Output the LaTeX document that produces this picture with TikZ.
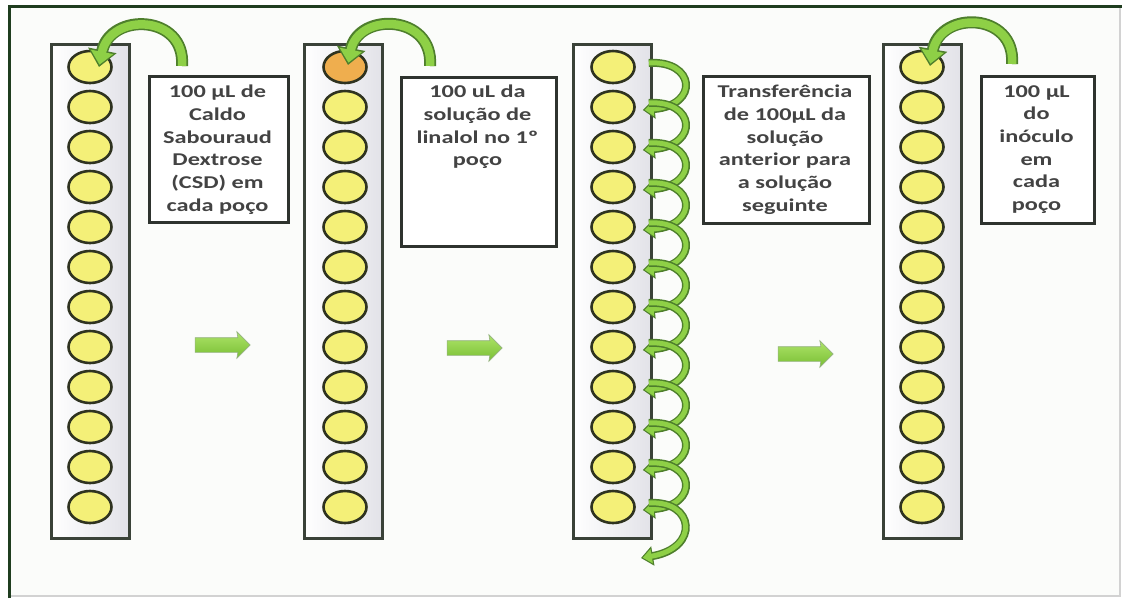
\documentclass[tikz,border=0pt]{standalone}
\usepackage{fontspec}
\setmainfont{Carlito}
\newfontfamily\boxfont{Carlito}[FakeStretch=1.35]
\usetikzlibrary{shapes.geometric,shapes.arrows,arrows.meta}
\definecolor{framec}{HTML}{1F3D1F}
\definecolor{bgc}{HTML}{FBFCFA}
\definecolor{stripc}{HTML}{3A4238}
\definecolor{stripgray}{HTML}{E2E2E8}
\definecolor{wellc}{HTML}{2F3320}
\definecolor{wellyellow}{HTML}{F4F078}
\definecolor{wellorange}{HTML}{EFAE4E}
\definecolor{boxc}{HTML}{2E332E}
\definecolor{txtc}{HTML}{434343}
\definecolor{gdark}{HTML}{4E7F2C}
\definecolor{glight}{HTML}{8ED046}
\definecolor{gtop}{HTML}{AEE468}
\definecolor{gbot}{HTML}{78BE34}
\tikzset{
  strip/.style={draw=stripc, line width=2.6pt, left color=white, right color=stripgray,
    minimum width=78pt, minimum height=494pt, anchor=north west, inner sep=0pt},
  well/.style={ellipse, draw=wellc, line width=2.6pt, fill=wellyellow,
    minimum width=43pt, minimum height=32pt, inner sep=0pt},
  tbox/.style={draw=boxc, line width=2.6pt, fill=white, anchor=north west, inner sep=0pt},
  txt/.style={font=\boxfont\bfseries\fontsize{18}{22.7}\selectfont, text=txtc,
    align=center, anchor=north, inner sep=0pt},
  gar/.style={line width=12pt, draw=gdark, -{Triangle[length=17pt,width=28pt]},
    postaction={draw=glight, line width=8.5pt, -{Triangle[length=13pt,width=22pt]}, shorten >=2.4pt}},
  sar/.style={line width=8pt, draw=gdark, -{Triangle[length=12pt,width=19pt]},
    postaction={draw=glight, line width=5pt, -{Triangle[length=9pt,width=14pt]}, shorten >=1.8pt}},
  blk/.style={single arrow, draw=gdark!60, line width=0.6pt, top color=gtop, bottom color=gbot,
    minimum height=55pt, inner xsep=0pt, inner ysep=7pt, single arrow head extend=6pt,
    single arrow head indent=1pt}
}
\begin{document}
\begin{tikzpicture}[x=1pt,y=-1pt]
\useasboundingbox (0,0) rectangle (1122,598);
\fill[white] (0,0) rectangle (1122,598);
\fill[bgc] (9,6) rectangle (1120,596);
\draw[gray!35, line width=1.5pt] (9,596) -- (1120,596) -- (1120,6);
\draw[framec, line width=3pt] (9,598) -- (9,6) -- (1122,6);

% strips
\node[strip] (strip1) at (50,43) {};
\node[strip] (strip2) at (303,43) {};
\node[strip] (strip3) at (572,43) {};
\node[strip] (strip4) at (882,43) {};

% wells
\foreach \i in {1,...,12} \node[well] (w1-\i) at (90,{67+40*(\i-1)}) {};
\node[well, fill=wellorange] (w2-1) at (345,67) {};
\foreach \i in {2,...,12} \node[well] (w2-\i) at (345,{67+40*(\i-1)}) {};
\foreach \i in {1,...,12} \node[well] (w3-\i) at (613,{67+40*(\i-1)}) {};
\foreach \i in {1,...,12} \node[well] (w4-\i) at (922,{67+40*(\i-1)}) {};

% text boxes
\node[tbox, minimum width=139pt, minimum height=146pt] (box1) at (148,75) {};
\node[tbox, minimum width=155pt, minimum height=169pt] (box2) at (400,76) {};
\node[tbox, minimum width=166pt, minimum height=147pt] (box3) at (702,75) {};
\node[tbox, minimum width=113pt, minimum height=147pt] (box4) at (980,75) {};

\node[txt] (t1) at (217.5,85) {100 µL de\\Caldo\\Sabouraud\\Dextrose\\(CSD) em\\cada poço};
\node[txt] (t2) at (477.5,85) {100 uL da\\solução de\\linalol no 1º\\poço};
\node[txt] (t3) at (785,85) {Transferência\\de 100µL da\\solução\\anterior para\\a solução\\seguinte};
\node[txt] (t4) at (1036.5,85) {100 µL\\do\\inóculo\\em\\cada\\poço};

% curved arrows from boxes to first wells
\draw[gar] ([shift={(34,-9)}]box1.north west) .. controls (186,14) and (110,12) .. ([shift={(9,0)}]w1-1.center);
\draw[gar] ([shift={(30,-10)}]box2.north west) .. controls (434,14) and (358,12) .. ([shift={(3,-2)}]w2-1.center);
\draw[gar] ([shift={(32,-11)}]box4.north west) .. controls (1016,12) and (940,10) .. ([shift={(8,-1)}]w4-1.center);

% spiral transfers
\coordinate (sp13) at (641,558);
\foreach \i [evaluate=\i as \y using {67+40*(\i-1)}] in {1,...,11} {
  \pgfmathtruncatemacro{\j}{\i+1}
  \draw[sar] ([shift={(13,-4)}]w3-\i.east) .. controls (695,{\y-7}) and (700,{\y+38}) .. ([shift={(7,3)}]w3-\j.east);
}
\draw[sar] ([shift={(13,-4)}]w3-12.east) .. controls (695,500) and (700,548) .. (sp13);

% block arrows between steps
\node[blk] (ar1) at (219,345) {};
\node[blk] (ar2) at (471,348) {};
\node[blk] (ar3) at (802,354) {};
\end{tikzpicture}
\end{document}
